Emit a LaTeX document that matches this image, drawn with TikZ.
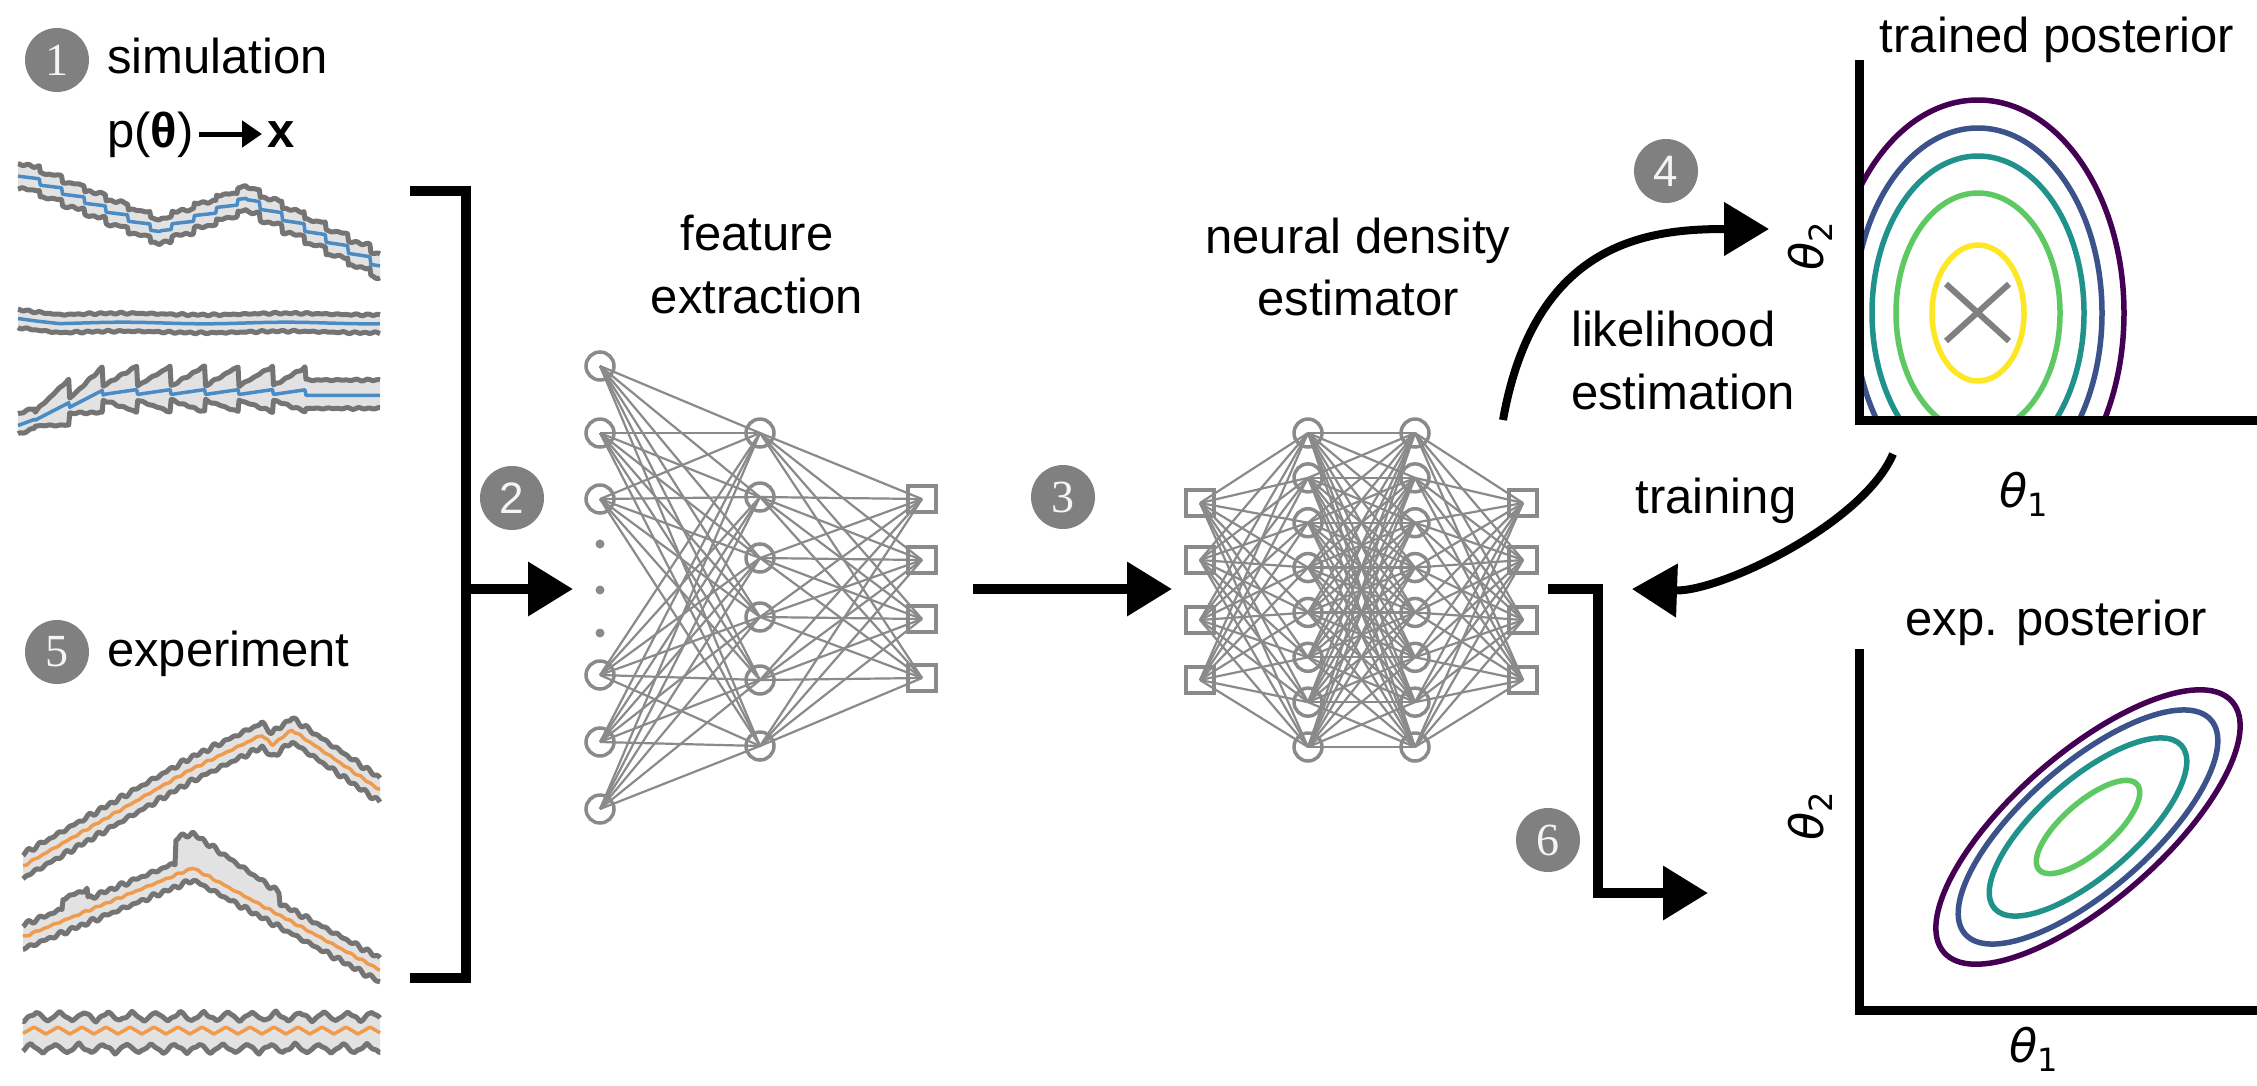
\documentclass[tikz,border=0pt]{standalone}
\usepackage{fontspec}
\setmainfont{Liberation Sans}
\newfontfamily\numserif{Liberation Serif}
\newfontfamily\dvs{DejaVu Sans}
\usetikzlibrary{arrows.meta}
\definecolor{netgray}{HTML}{8A8A8A}
\definecolor{edgegray}{HTML}{747474}
\definecolor{bandfill}{HTML}{E2E2E2}
\definecolor{simblue}{HTML}{4A8BC4}
\definecolor{exporange}{HTML}{EF9B4E}
\definecolor{badgegray}{HTML}{808080}
\definecolor{vpurple}{HTML}{440154}
\definecolor{vblue}{HTML}{3B528B}
\definecolor{vteal}{HTML}{21918C}
\definecolor{vgreen}{HTML}{5EC962}
\definecolor{vyellow}{HTML}{FDE725}
\newcommand\drawtrace[5]{%
  \fill[bandfill] plot[domain=#1:380,samples=358] (\x,{#2}) -- plot[domain=380:#1,samples=358] (\x,{#3}) -- cycle;
  \draw[edgeline] plot[domain=#1:380,samples=358] (\x,{#2});
  \draw[edgeline] plot[domain=#1:380,samples=358] (\x,{#3});
  \draw[draw=#5,line width=3.5pt,line join=round] plot[domain=#1:380,samples=358] (\x,{#4});
}
\newcommand\thlab[1]{{\dvs\itshape\fontsize{46}{46}\selectfont θ}\raisebox{-9pt}{\dvs\fontsize{32}{32}\selectfont #1}}
\begin{document}
\begin{tikzpicture}[x=1pt,y=-1pt,
  declare function={
    saw(\x,\p)=Mod(\x,\p)/\p;
    nz(\x)=1.2*sin(35*\x)+0.8*sin(23*\x+30)+0.6*sin(31*\x+70);
    sa(\x)=ifthenelse(\x<160,173+(\x-18)*0.41,ifthenelse(\x<247,231-(\x-160)*0.37,199+(\x-247)*0.50));
    sm(\x)=ifthenelse(\x<160,0.41,ifthenelse(\x<247,-0.37,0.50));
    sone(\x)=sa(\x)+0.7*sm(\x)*22*(0.5-saw(\x-18,22));
    stwo(\x)=ifthenelse(\x<60,318+(\x-18)*0.12,323)+0.8*sin(2.2*\x);
    sthc(\x)=ifthenelse(\x<105,424-(\x-18)*0.37,ifthenelse(\x<305,392,395));
    sthf(\x)=ifthenelse(\x<35,0.2,ifthenelse(\x<305,saw(\x-35,34),0.45));
    eone(\x)=ifthenelse(\x<190,866-(\x-23)*0.575,ifthenelse(\x<262,770-(\x-190)*0.486,ifthenelse(\x<272,735+(\x-262),ifthenelse(\x<292,745-(\x-272)*0.75,730+(\x-292)*0.682))));
    etwo(\x)=ifthenelse(\x<193,937-(\x-23)*0.406,868+(\x-193)*0.545);
    etwx(\x)=ifthenelse(\x>62,ifthenelse(\x<88,10,0),0)+ifthenelse(\x>175,ifthenelse(\x<280,25-(\x-175)*0.14,0),0);
    tri(\x)=abs(2*saw(\x,24)-1);
  },
  lbl/.style={font=\fontsize{49}{59}\selectfont, inner sep=0pt},
  badge/.style={circle, fill=badgegray, minimum size=64pt, inner sep=0pt, text=white!92!gray, font=\numserif\fontsize{46}{46}\selectfont},
  conn/.style={line width=10pt, draw=black},
  bigarrow/.style={conn, -{Triangle[length=45pt,width=52pt]}},
  curvearrow/.style={line width=8pt, draw=black, -{Triangle[length=45pt,width=52pt]}},
  smallarrow/.style={line width=5pt, -{Triangle[length=20pt,width=26pt]}},
  axisline/.style={line width=9pt, draw=black},
  edgeline/.style={draw=edgegray, line width=5pt, line join=round},
  netline/.style={draw=netgray, line width=2.2pt},
  neuron/.style={circle, draw=netgray, line width=3.5pt, minimum size=28pt, inner sep=0pt},
  outsq/.style={rectangle, draw=netgray, line width=3.5pt, minimum width=28pt, minimum height=26pt, inner sep=0pt},
  contour/.style={line width=5.5pt},
  xmark/.style={draw=gray, line width=6pt}
]
\useasboundingbox (0,0) rectangle (2257,1085);
\fill[white] (0,0) rectangle (2257,1085);

% ---------- traces ----------
\drawtrace{18}{sone(\x)-12+0.5*nz(\x)}{sone(\x)+12+0.5*nz(\x+17)}{sone(\x)}{simblue}
\drawtrace{18}{stwo(\x)-9+0.4*nz(\x)}{stwo(\x)+9+0.4*nz(\x+13)}{stwo(\x)}{simblue}
\drawtrace{18}{sthc(\x)-6-20*sthf(\x)+0.4*nz(\x)}{sthc(\x)+8+12*sthf(\x)+0.4*nz(\x+9)}{sthc(\x)+5*(0.5-sthf(\x))}{simblue}
\drawtrace{23}{eone(\x)-12+nz(\x)}{eone(\x)+12+nz(\x+23)}{eone(\x)+0.4*nz(\x+7)}{exporange}
\drawtrace{23}{etwo(\x)-12-etwx(\x)+nz(\x)}{etwo(\x)+12+nz(\x+29)}{etwo(\x)+0.4*nz(\x+5)}{exporange}
\drawtrace{23}{1012+9*tri(\x)+0.5*nz(\x)}{1044+9*tri(\x+5)+0.5*nz(\x+11)}{1027+7*tri(\x+2)}{exporange}

% ---------- left labels ----------
\node[badge] (b1) at (57,60) {1};
\node[lbl, anchor=base west] (simlab) at (107,73) {simulation};
\node[lbl, anchor=base west, text height=36pt, text depth=10pt] (ptheta) at (107,147) {p(\textbf{θ})};
\node[lbl, anchor=base west, text height=36pt, text depth=10pt] (xvar) at (267,147) {\textbf{x}};
\draw[smallarrow] ([xshift=5pt]ptheta.east) -- ([xshift=-5pt]xvar.west);
\node[badge] (b5) at (57,652) {5};
\node[lbl, anchor=base west] (explab) at (107,666) {experiment};

% ---------- bracket + arrow 2 ----------
\coordinate (brtl) at (410,191);
\coordinate (brtr) at (466,191);
\coordinate (brbr) at (466,978);
\coordinate (brbl) at (410,978);
\coordinate (brmid) at (466,589);
\coordinate (fetip) at (573,589);
\draw[conn] (brtl) -- (brtr) -- (brbr) -- (brbl);
\draw[bigarrow] (brmid) -- (fetip);
\node[badge, font=\fontsize{44}{44}\selectfont] (b2) at (512,498) {2};

% ---------- feature extraction network ----------
\node[lbl, anchor=base] (fe1) at (757,250) {feature};
\node[lbl, anchor=base] (fe2) at (757,313) {extraction};
\foreach \y [count=\i] in {366,433,499,675,742,809} \node[neuron] (fi\i) at (600,\y) {};
\foreach \y [count=\i] in {433,497,558,617,680,746} \node[neuron] (fh\i) at (760,\y) {};
\foreach \y [count=\i] in {499,560,619,678} \node[outsq] (fo\i) at (922,\y) {};
\foreach \y in {544,590,633} \fill[netgray] (600,\y) circle[radius=4.5];
\foreach \i in {1,...,6} \foreach \j in {1,...,6} \draw[netline] (fi\i.center) -- (fh\j.center);
\foreach \i in {1,...,6} \foreach \j in {1,...,4} \draw[netline] (fh\i.center) -- (fo\j.center);

% ---------- arrow 3 ----------
\coordinate (feout) at (973,589);
\coordinate (ndein) at (1172,589);
\draw[bigarrow] (feout) -- (ndein);
\node[badge] (b3) at (1063,497) {3};

% ---------- neural density estimator ----------
\node[lbl, anchor=base] (nd1) at (1358,253) {neural density};
\node[lbl, anchor=base] (nd2) at (1358,315) {estimator};
\foreach \y [count=\i] in {503,560,620,680} \node[outsq] (ni\i) at (1200,\y) {};
\foreach \k in {1,...,8} \node[neuron] (na\k) at (1308,{433+44.857*(\k-1)}) {};
\foreach \k in {1,...,8} \node[neuron] (nb\k) at (1415,{433+44.857*(\k-1)}) {};
\foreach \y [count=\i] in {503,560,620,680} \node[outsq] (no\i) at (1523,\y) {};
\foreach \i in {1,...,4} \foreach \j in {1,...,8} \draw[netline] (ni\i.center) -- (na\j.center);
\foreach \i in {1,...,8} \foreach \j in {1,...,8} \draw[netline] (na\i.center) -- (nb\j.center);
\foreach \i in {1,...,8} \foreach \j in {1,...,4} \draw[netline] (nb\i.center) -- (no\j.center);

% ---------- output bracket + arrow 6 ----------
\coordinate (ndeout) at (1548,589);
\coordinate (obk1) at (1598,589);
\coordinate (obk2) at (1598,893);
\coordinate (postin) at (1708,893);
\draw[bigarrow] (ndeout) -- (obk1) -- (obk2) -- (postin);
\node[badge] (b6) at (1548,840) {6};

% ---------- likelihood / training arrows ----------
\coordinate (likstart) at (1503,420);
\coordinate (liktip) at (1769,229);
\draw[curvearrow] (likstart) .. controls (1535,240) and (1650,229) .. (liktip);
\node[badge, font=\fontsize{44}{44}\selectfont] (b4) at (1666,171) {4};
\node[lbl, anchor=base west] (lk1) at (1571,346) {likelihood};
\node[lbl, anchor=base west] (lk2) at (1571,409) {estimation};
\coordinate (trstart) at (1893,454);
\coordinate (trtip) at (1632,589);
\draw[curvearrow] (trstart) .. controls (1863,524) and (1720,592) .. (trtip);
\node[lbl, anchor=base] (trn) at (1716,513) {training};

% ---------- trained posterior ----------
\node[lbl, anchor=base] (tp) at (2057,52) {trained posterior};
\begin{scope}
  \clip (1859,0) rectangle (2257,421);
  \foreach \c/\a/\b in {vpurple/146/213, vblue/124/185, vteal/106/157, vgreen/82/120, vyellow/46/68}
    \draw[contour, draw=\c] (1978,313) ellipse [x radius=\a, y radius=\b];
\end{scope}
\draw[xmark] (1946,284) -- (2009,341) (1946,341) -- (2009,284);
\coordinate (tax1) at (1859,60);
\coordinate (tax0) at (1859,420);
\coordinate (tax2) at (2257,420);
\draw[axisline] (tax1) -- (tax0) -- (tax2);
\node[rotate=90, inner sep=0pt] (tth2) at (1810,246) {\thlab{2}};
\node[anchor=base, inner sep=0pt] (tth1) at (2024,507) {\thlab{1}};

% ---------- experimental posterior ----------
\node[lbl, anchor=base] (ep) at (2056,635) {exp. posterior};
\foreach \c/\a/\b in {vpurple/191/74, vblue/163/63, vteal/124/48, vgreen/65/25}
  \draw[contour, draw=\c, rotate around={41:(2088,827)}] (2088,827) ellipse [x radius=\a, y radius=\b];
\coordinate (bax1) at (1859,649);
\coordinate (bax0) at (1859,1010);
\coordinate (bax2) at (2257,1010);
\draw[axisline] (bax1) -- (bax0) -- (bax2);
\node[rotate=90, inner sep=0pt] (bth2) at (1810,816) {\thlab{2}};
\node[anchor=base, inner sep=0pt] (bth1) at (2034,1062) {\thlab{1}};
\end{tikzpicture}
\end{document}
